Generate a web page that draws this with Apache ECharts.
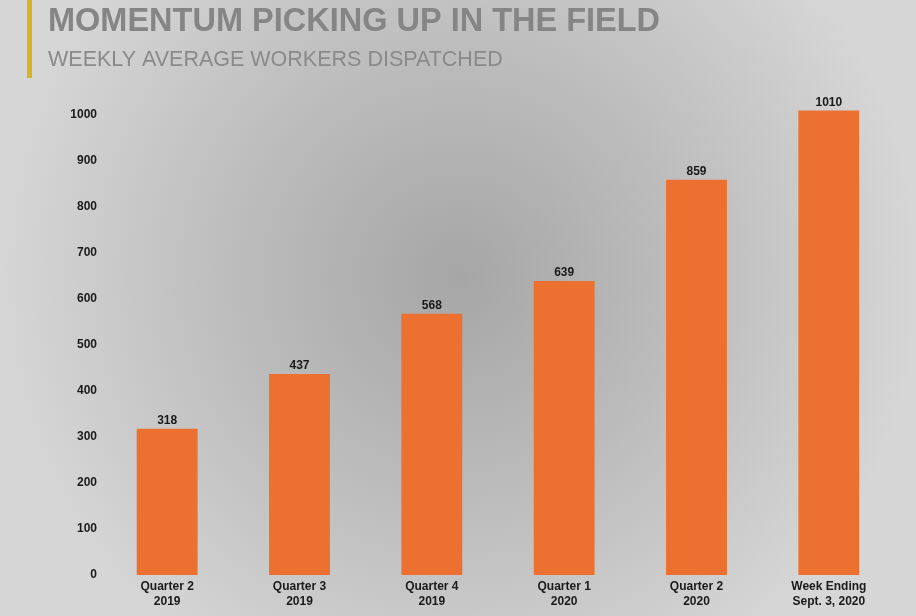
<!DOCTYPE html>
<html>
<head>
<meta charset="utf-8">
<script src="https://cdn.jsdelivr.net/npm/echarts@6/dist/echarts.min.js"></script>
<style>
html,body{margin:0;padding:0;}
#chart{width:916px;height:616px;}
</style>
</head>
<body>
<div id="chart"></div>
<script>
const titleText = 'MOMENTUM PICKING UP IN THE FIELD';
const subtitleText = 'WEEKLY AVERAGE WORKERS DISPATCHED';
const categories = ['Quarter 2\n2019', 'Quarter 3\n2019', 'Quarter 4\n2019', 'Quarter 1\n2020', 'Quarter 2\n2020', 'Week Ending\nSept. 3, 2020'];
const workers = [318, 437, 568, 639, 859, 1010];

const chart = echarts.init(document.getElementById('chart'));
chart.setOption({
  backgroundColor: {
    type: 'radial', x: 0.5, y: 0.45, r: 0.75,
    colorStops: [
      {offset: 0, color: '#a6a6a6'},
      {offset: 0.5, color: '#bdbdbd'},
      {offset: 1, color: '#d6d6d6'}
    ]
  },
  textStyle: {fontFamily: 'Liberation Sans, Arial, sans-serif'},
  title: [
    {text: titleText, left: 43, top: 1,
     textStyle: {fontSize: 32.5, fontWeight: 'bold', color: '#858585', fontFamily: 'Liberation Sans'}},
    {text: subtitleText, left: 43, top: 44,
     textStyle: {fontSize: 21.5, fontWeight: 'normal', color: '#8a8a8a', fontFamily: 'Liberation Sans'}}
  ],
  graphic: [
    {type: 'rect', left: 27, top: 0, shape: {width: 5, height: 78}, style: {fill: '#d8b41e'}}
  ],
  grid: {left: 101, right: 21, top: 69, bottom: 41},
  xAxis: {
    type: 'category',
    data: categories,
    axisLine: {show: false},
    axisTick: {show: false},
    axisLabel: {
      interval: 0, margin: 4, color: '#1a1a1a', fontSize: 12, fontWeight: 'bold',
      lineHeight: 15, fontFamily: 'Liberation Sans'
    }
  },
  yAxis: {
    type: 'value',
    min: 0, max: 1100, interval: 100,
    splitLine: {show: false},
    axisLine: {show: false},
    axisTick: {show: false},
    axisLabel: {
      showMaxLabel: false, margin: 4, color: '#1a1a1a', fontSize: 12, fontWeight: 'bold',
      fontFamily: 'Liberation Sans',
      formatter: function (v) { return String(v); }
    }
  },
  series: [{
    type: 'bar',
    data: workers,
    barWidth: '46%',
    itemStyle: {color: '#ec7030'},
    label: {
      show: true, position: 'top', distance: 2, color: '#1a1a1a', fontSize: 12,
      fontWeight: 'bold', fontFamily: 'Liberation Sans'
    }
  }]
});
</script>
</body>
</html>
